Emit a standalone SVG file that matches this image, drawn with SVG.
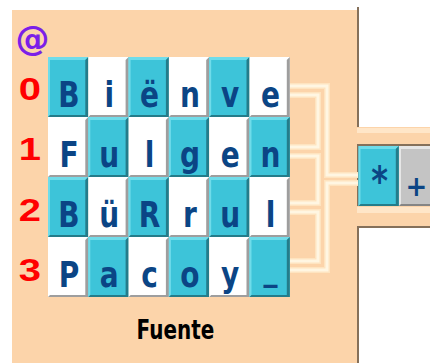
<svg xmlns="http://www.w3.org/2000/svg" xmlns:xlink="http://www.w3.org/1999/xlink" width="430" height="363" viewBox="0 0 430 363">
<style>
.lt{font-family:"DejaVu Sans","Liberation Sans",sans-serif;font-weight:bold;font-size:28px;fill:#0B4585;text-anchor:middle}
.lb{font-family:"Liberation Sans","DejaVu Sans",sans-serif;font-weight:bold;font-size:32px;fill:#FF0000;text-anchor:middle}
.at{font-family:"DejaVu Sans",sans-serif;font-weight:bold;font-size:34px;fill:#7B1FE8;text-anchor:middle}
.ti{font-family:"DejaVu Sans",sans-serif;font-weight:bold;font-size:20px;fill:#000;text-anchor:middle}
.cn{fill:none;stroke:#FFF6E2;stroke-width:3;stroke-linejoin:miter}
.cg{fill:none;stroke:#FEE4C0;stroke-width:6;stroke-linejoin:miter}
.br{fill:none;stroke:#85705A;stroke-width:2}
</style>
<defs>
<g id="cy">
<rect width="40.3" height="60" fill="#3DC4D9"/>
<path d="M0,0 H40.3 L37.3,3 H2 V58 L0,60 Z" fill="#6FDCEA"/>
<path d="M40.3,0 V60 H0 L2,58 H37.3 V3 Z" fill="#247C8A"/>
</g>
<g id="wh">
<rect width="40.3" height="60" fill="#FFFFFF"/>
<path d="M40.3,0 V60 H0 L2,58 H37.3 V3 Z" fill="#9E9E9E"/>
</g>
<g id="gr">
<rect width="40.3" height="60" fill="#C4C4C4"/>
<path d="M0,0 H40.3 L37.3,3 H2 V58 L0,60 Z" fill="#E6E6E6"/>
<path d="M40.3,0 V60 H0 L2,58 H37.3 V3 Z" fill="#858585"/>
</g>
</defs>
<rect width="430" height="363" fill="#FFFFFF"/>
<g id="panel">
<rect x="12" y="10" width="346" height="353" fill="#FCD4AA"/>
<rect x="357" y="127" width="73" height="100" fill="#FCD4AA"/>
<rect x="357" y="128" width="73" height="5" fill="#FFE6C8"/>
<rect x="357" y="207" width="73" height="6" fill="#FFE6C8"/>
<path class="br" d="M358,7 V127"/>
<path class="br" d="M358,206 V145 H430"/>
<path class="br" d="M358,363 V227 H430"/>
</g>
<g id="connectors">
<path class="cg" d="M289,86 H327 V175 H358 M358,183 H327 V270 H289 M289,95 H318 V147 H289 M289,156 H318 V203 H289 M289,212 H318 V261 H289"/>
<path class="cn" d="M289,86 H327 V175 H358 M358,183 H327 V270 H289 M289,95 H318 V147 H289 M289,156 H318 V203 H289 M289,212 H318 V261 H289"/>
</g>
<g id="at"><text class="at" transform="translate(32.5,50)">@</text></g>
<g id="labels">
<text class="lb" transform="translate(30,100) scale(1.25,1)">0</text>
<text class="lb" transform="translate(30,160) scale(1.25,1)">1</text>
<text class="lb" transform="translate(30,221) scale(1.25,1)">2</text>
<text class="lb" transform="translate(30,281) scale(1.25,1)">3</text>
</g>
<g id="t-0-0"><use xlink:href="#cy" x="48" y="57"/><text class="lt" transform="translate(69,106.5) scale(1,1.27)">B</text></g>
<g id="t-0-1"><use xlink:href="#wh" x="88.3" y="57"/><text class="lt" transform="translate(109.3,106.5) scale(1,1.27)">i</text></g>
<g id="t-0-2"><use xlink:href="#cy" x="128.6" y="57"/><text class="lt" transform="translate(149.6,106.5) scale(1,1.27)">ë</text></g>
<g id="t-0-3"><use xlink:href="#wh" x="168.9" y="57"/><text class="lt" transform="translate(189.9,106.5) scale(1,1.27)">n</text></g>
<g id="t-0-4"><use xlink:href="#cy" x="209.2" y="57"/><text class="lt" transform="translate(230.2,106.5) scale(1,1.27)">v</text></g>
<g id="t-0-5"><use xlink:href="#wh" x="249.5" y="57"/><text class="lt" transform="translate(270.5,106.5) scale(1,1.27)">e</text></g>
<g id="t-1-0"><use xlink:href="#wh" x="48" y="117"/><text class="lt" transform="translate(69,166.5) scale(1,1.27)">F</text></g>
<g id="t-1-1"><use xlink:href="#cy" x="88.3" y="117"/><text class="lt" transform="translate(109.3,166.5) scale(1,1.27)">u</text></g>
<g id="t-1-2"><use xlink:href="#wh" x="128.6" y="117"/><text class="lt" transform="translate(149.6,166.5) scale(1,1.27)">l</text></g>
<g id="t-1-3"><use xlink:href="#cy" x="168.9" y="117"/><text class="lt" transform="translate(189.9,166.5) scale(1,1.27)">g</text></g>
<g id="t-1-4"><use xlink:href="#wh" x="209.2" y="117"/><text class="lt" transform="translate(230.2,166.5) scale(1,1.27)">e</text></g>
<g id="t-1-5"><use xlink:href="#cy" x="249.5" y="117"/><text class="lt" transform="translate(270.5,166.5) scale(1,1.27)">n</text></g>
<g id="t-2-0"><use xlink:href="#cy" x="48" y="177"/><text class="lt" transform="translate(69,226.5) scale(1,1.27)">B</text></g>
<g id="t-2-1"><use xlink:href="#wh" x="88.3" y="177"/><text class="lt" transform="translate(109.3,226.5) scale(1,1.27)">ü</text></g>
<g id="t-2-2"><use xlink:href="#cy" x="128.6" y="177"/><text class="lt" transform="translate(149.6,226.5) scale(1,1.27)">R</text></g>
<g id="t-2-3"><use xlink:href="#wh" x="168.9" y="177"/><text class="lt" transform="translate(189.9,226.5) scale(1,1.27)">r</text></g>
<g id="t-2-4"><use xlink:href="#cy" x="209.2" y="177"/><text class="lt" transform="translate(230.2,226.5) scale(1,1.27)">u</text></g>
<g id="t-2-5"><use xlink:href="#wh" x="249.5" y="177"/><text class="lt" transform="translate(270.5,226.5) scale(1,1.27)">l</text></g>
<g id="t-3-0"><use xlink:href="#wh" x="48" y="237"/><text class="lt" transform="translate(69,286.5) scale(1,1.27)">P</text></g>
<g id="t-3-1"><use xlink:href="#cy" x="88.3" y="237"/><text class="lt" transform="translate(109.3,286.5) scale(1,1.27)">a</text></g>
<g id="t-3-2"><use xlink:href="#wh" x="128.6" y="237"/><text class="lt" transform="translate(149.6,286.5) scale(1,1.27)">c</text></g>
<g id="t-3-3"><use xlink:href="#cy" x="168.9" y="237"/><text class="lt" transform="translate(189.9,286.5) scale(1,1.27)">o</text></g>
<g id="t-3-4"><use xlink:href="#wh" x="209.2" y="237"/><text class="lt" transform="translate(230.2,286.5) scale(1,1.27)">y</text></g>
<g id="t-3-5"><use xlink:href="#cy" x="249.5" y="237"/><text class="lt" transform="translate(270.5,280) scale(1,1.27)">_</text></g>
<g id="title"><text class="ti" transform="translate(175.5,339) scale(1,1.3)">Fuente</text></g>
<g id="btn-star"><use xlink:href="#cy" x="358.5" y="146"/><text class="lt" transform="translate(379.5,195) scale(1,1.27)" style="font-size:32px">*</text></g>
<g id="btn-plus"><use xlink:href="#gr" x="399" y="146"/><text class="lt" transform="translate(416.5,196) scale(1,1.1)" style="font-size:26px">+</text></g>
</svg>
